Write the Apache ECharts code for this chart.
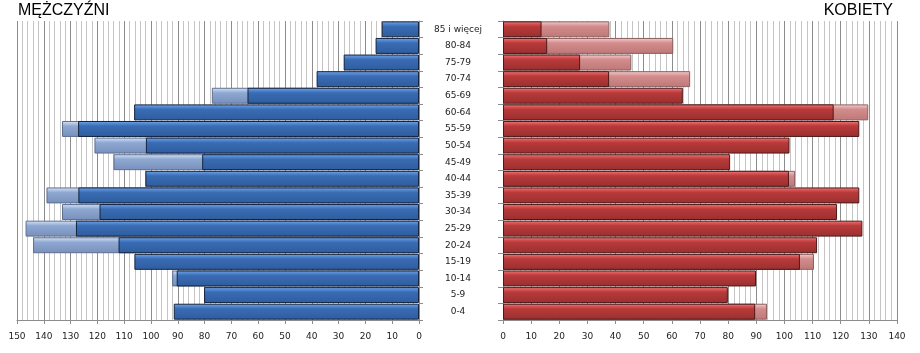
<!DOCTYPE html>
<html>
<head>
<meta charset="utf-8">
<script src="https://cdn.jsdelivr.net/npm/echarts@6/dist/echarts.min.js"></script>
<style>
  html, body { margin: 0; padding: 0; background: #ffffff; }
  #chart { width: 920px; height: 353px; }
</style>
</head>
<body>
<div id="chart"></div>
<script>
// age groups, bottom to top
const AGES = ["0-4", "5-9", "10-14", "15-19", "20-24", "25-29", "30-34", "35-39", "40-44",
  "45-49", "50-54", "55-59", "60-64", "65-69", "70-74", "75-79", "80-84", "85 i więcej"];

// men: dark bars (front) and light bars (behind, visible only where larger)
const MEN_DARK = [91.5, 80.2, 90.4, 106.2, 112.1, 128, 119.2, 127.1, 102.1,
  80.9, 101.9, 127.2, 106.3, 64, 38.2, 28.1, 16.2, 13.9];
const MEN_LIGHT = [null, null, 92.1, null, 144, 146.8, 133.2, 139, null,
  114, 121.1, 133.2, null, 77.3, null, null, null, null];

// women
const WOMEN_DARK = [89.6, 79.9, 89.9, 105.5, 111.6, 127.7, 118.7, 126.6, 101.6,
  80.7, 101.8, 126.6, 117.5, 63.9, 37.7, 27.4, 15.7, 13.7];
const WOMEN_LIGHT = [93.8, null, null, 110.5, null, null, null, null, 103.8,
  null, null, null, 129.8, null, 66.5, 45.6, 60.5, 37.8];

const FONT = "'DejaVu Sans', sans-serif";
const TITLE_FONT = "'Liberation Sans', Arial, sans-serif";
const TEXT = "#222222";
const MAJOR = "#8c8c8c";
const MINOR = "#c4c4c4";

function grad(top, hi, mid, bottom) {
  return new echarts.graphic.LinearGradient(0, 0, 0, 1, [
    { offset: 0, color: top },
    { offset: 0.18, color: hi },
    { offset: 0.32, color: mid },
    { offset: 1, color: bottom },
  ]);
}

const BLUE_DARK = grad("#7aa6e6", "#4f86d0", "#3a6cb3", "#2e5c9e");
const BLUE_LIGHT = grad("#dbe6f6", "#aec3e4", "#8ea8d2", "#7890bb");
const RED_DARK = grad("#f08080", "#d55050", "#b83a3a", "#9a2f2f");
const RED_LIGHT = grad("#f8d2d2", "#e2a8a8", "#d38c8c", "#bf7878");

function valueAxis(gridIndex, max, inverse) {
  return {
    type: "value",
    gridIndex,
    min: 0,
    max,
    interval: 10,
    inverse,
    axisLine: { show: true, lineStyle: { color: MAJOR } },
    axisTick: { show: true, length: 4, lineStyle: { color: MAJOR } },
    axisLabel: { color: TEXT, fontSize: 9, fontFamily: FONT, margin: 12 },
    splitLine: { show: true, lineStyle: { color: MAJOR, width: 1 } },
    minorTick: { show: false, splitNumber: 5 },
    minorSplitLine: { show: true, lineStyle: { color: MINOR, width: 1 } },
  };
}

const chart = echarts.init(document.getElementById("chart"), null, { renderer: "canvas" });

chart.setOption({
  animation: false,
  backgroundColor: "#ffffff",
  textStyle: { fontFamily: FONT },
  title: [
    {
      text: "MĘŻCZYŹNI",
      left: 18,
      top: 3,
      padding: 0,
      textStyle: { fontFamily: TITLE_FONT, fontSize: 16, fontWeight: "normal", color: "#000" },
    },
    {
      text: "KOBIETY",
      right: 27,
      top: 3,
      padding: 0,
      textStyle: { fontFamily: TITLE_FONT, fontSize: 16, fontWeight: "normal", color: "#000" },
    },
  ],
  grid: [
    { left: 17, right: 501, top: 21, height: 299 },
    { left: 503, right: 23, top: 21, height: 299 },
  ],
  xAxis: [valueAxis(0, 150, true), valueAxis(1, 140, false)],
  yAxis: [
    {
      type: "category",
      gridIndex: 0,
      position: "right",
      data: AGES,
      axisLine: { show: true, lineStyle: { color: MAJOR } },
      axisTick: { show: true, length: 4, lineStyle: { color: MAJOR } },
      axisLabel: { show: false },
      splitLine: { show: false },
    },
    {
      type: "category",
      gridIndex: 1,
      position: "left",
      data: AGES,
      axisLine: { show: true, lineStyle: { color: MAJOR } },
      axisTick: { show: true, length: 5, lineStyle: { color: MAJOR } },
      axisLabel: { color: TEXT, fontSize: 9, fontFamily: FONT, align: "center", margin: 45 },
      splitLine: { show: false },
    },
  ],
  series: [
    {
      name: "Mężczyźni (2)",
      type: "bar",
      xAxisIndex: 0,
      yAxisIndex: 0,
      data: MEN_LIGHT,
      barCategoryGap: "4%",
      itemStyle: { color: BLUE_LIGHT, borderColor: "#5f6f8f", borderWidth: 1 },
    },
    {
      name: "Mężczyźni",
      type: "bar",
      xAxisIndex: 0,
      yAxisIndex: 0,
      data: MEN_DARK,
      barGap: "-100%",
      barCategoryGap: "4%",
      itemStyle: { color: BLUE_DARK, borderColor: "#15243d", borderWidth: 1 },
    },
    {
      name: "Kobiety (2)",
      type: "bar",
      xAxisIndex: 1,
      yAxisIndex: 1,
      data: WOMEN_LIGHT,
      barCategoryGap: "4%",
      itemStyle: { color: RED_LIGHT, borderColor: "#8a5f5f", borderWidth: 1 },
    },
    {
      name: "Kobiety",
      type: "bar",
      xAxisIndex: 1,
      yAxisIndex: 1,
      data: WOMEN_DARK,
      barGap: "-100%",
      barCategoryGap: "4%",
      itemStyle: { color: RED_DARK, borderColor: "#4a1a1a", borderWidth: 1 },
    },
  ],
});
</script>
</body>
</html>
